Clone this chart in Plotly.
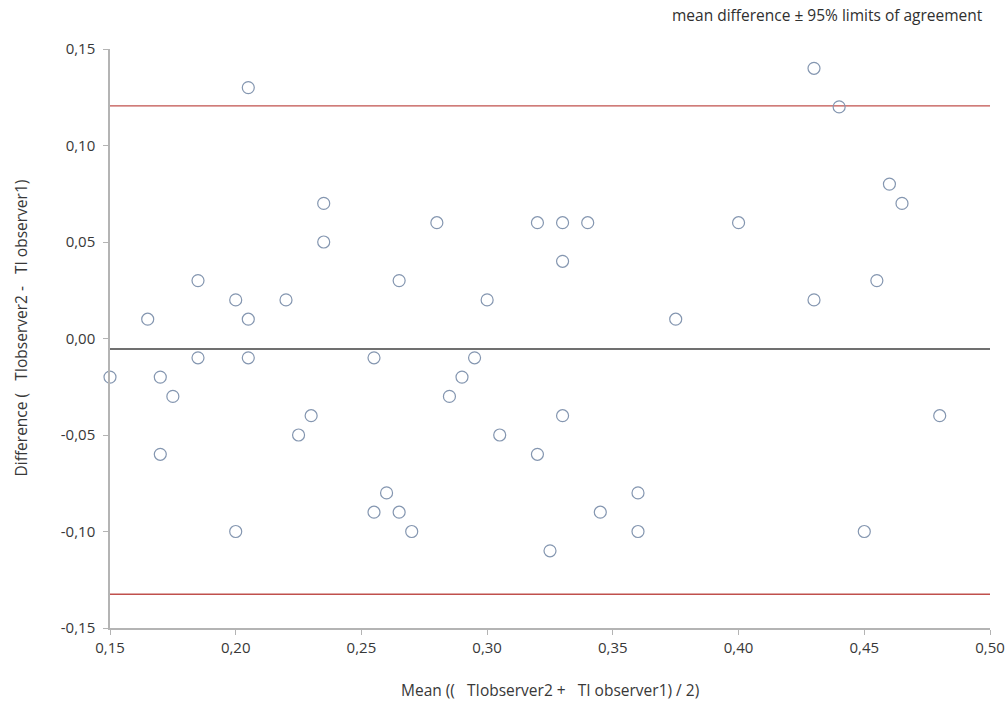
import plotly.graph_objects as go

# Bland-Altman data: mean of the two observers vs. their difference
mean_values = [0.150, 0.165, 0.170, 0.170, 0.175, 0.185, 0.185, 0.200, 0.200, 0.205,
               0.205, 0.205, 0.220, 0.225, 0.230, 0.235, 0.235, 0.255, 0.255, 0.260,
               0.265, 0.265, 0.270, 0.280, 0.285, 0.290, 0.295, 0.300, 0.305, 0.320,
               0.320, 0.325, 0.330, 0.330, 0.330, 0.340, 0.345, 0.360, 0.360, 0.375,
               0.400, 0.430, 0.430, 0.440, 0.450, 0.455, 0.460, 0.465, 0.480]
diff_values = [-0.02, 0.01, -0.02, -0.06, -0.03, 0.03, -0.01, 0.02, -0.10, 0.13,
               0.01, -0.01, 0.02, -0.05, -0.04, 0.07, 0.05, -0.01, -0.09, -0.08,
               0.03, -0.09, -0.10, 0.06, -0.03, -0.02, -0.01, 0.02, -0.05, 0.06,
               -0.06, -0.11, 0.06, 0.04, -0.04, 0.06, -0.09, -0.08, -0.10, 0.01,
               0.06, 0.14, 0.02, 0.12, -0.10, 0.03, 0.08, 0.07, -0.04]

mean_difference = -0.0055
loa_upper = 0.1205
loa_lower = -0.1325

x_range = [0.15, 0.50]
y_range = [-0.15, 0.15]
x_ticks = [0.15, 0.20, 0.25, 0.30, 0.35, 0.40, 0.45, 0.50]
y_ticks = [-0.15, -0.10, -0.05, 0.00, 0.05, 0.10, 0.15]

x_title = "Mean ((   TIobserver2 +   TI observer1) / 2)"
y_title = "Difference (   TIobserver2 -   TI observer1)"
legend_note = "mean difference \u00b1 95% limits of agreement"


def comma_label(v):
    # decimal comma and a plain hyphen for negatives
    return f"{v:.2f}".replace(".", ",")


font_family = "Open Sans, Liberation Sans, sans-serif"
axis_color = "#b4b4b4"
text_color = "#383838"

fig = go.Figure()

# reference lines: limits of agreement and mean difference
for yv, col, w in [(loa_upper, "#c0504d", 1.3), (loa_lower, "#c0504d", 1.3),
                   (mean_difference, "#707070", 2)]:
    fig.add_trace(go.Scatter(
        x=x_range, y=[yv, yv], mode="lines",
        line=dict(color=col, width=w), hoverinfo="skip", showlegend=False,
    ))

fig.add_trace(go.Scatter(
    x=mean_values, y=diff_values, mode="markers",
    marker=dict(symbol="circle-open", size=12, color="#8496b0",
                line=dict(width=1.2, color="#8496b0")),
    cliponaxis=False, showlegend=False,
))

axis_common = dict(
    showgrid=False, zeroline=False, automargin=False,
    showline=True, linecolor=axis_color, linewidth=1.5,
    ticks="outside", ticklen=5, tickcolor=axis_color,
    tickfont=dict(size=15, color=text_color),
)

fig.update_layout(
    width=1008, height=701,
    margin=dict(l=110, r=18, t=49, b=73),
    paper_bgcolor="white", plot_bgcolor="white",
    font=dict(family=font_family, size=15, color=text_color),
    xaxis=dict(range=x_range, tickvals=x_ticks,
               ticktext=[comma_label(v) for v in x_ticks], **axis_common),
    yaxis=dict(range=y_range, tickvals=y_ticks, ticklabelstandoff=5,
               ticktext=[comma_label(v) for v in y_ticks], **axis_common),
    annotations=[
        dict(text=legend_note, xref="paper", yref="paper", x=1.0, y=1.0,
             xshift=-5, yshift=34, xanchor="right", yanchor="middle",
             showarrow=False, font=dict(size=15.5, color="#303030")),
        dict(text=x_title, xref="paper", yref="paper", x=0.5, y=0.0,
             yshift=-62, xanchor="center", yanchor="middle",
             showarrow=False, font=dict(size=15.5, color=text_color)),
        dict(text=y_title, xref="paper", yref="paper", x=0.0, y=0.5,
             xshift=-90, yshift=10, textangle=-90,
             xanchor="center", yanchor="middle",
             showarrow=False, font=dict(size=15.5, color=text_color)),
    ],
)

fig.write_html("out.html")
